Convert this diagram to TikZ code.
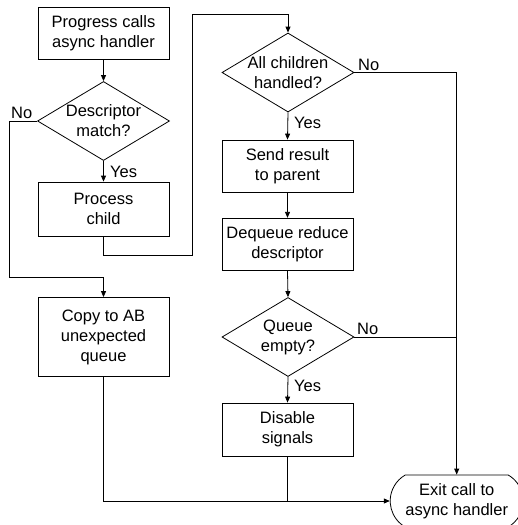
\documentclass[tikz,border=0pt]{standalone}
\usepackage{fontspec}
\setmainfont{Liberation Sans}
\usetikzlibrary{shapes.geometric,shapes.misc,arrows.meta}
\begin{document}
\begin{tikzpicture}[x=1pt,y=-1pt,
  every node/.style={font=\fontsize{16.5}{20}\selectfont},
  box/.style={draw,line width=0.8pt,rectangle,minimum width=131pt,align=center,inner sep=0pt},
  dia/.style={draw,line width=0.8pt,diamond,minimum width=132pt,minimum height=79pt,inner sep=0pt},
  txt/.style={align=center,inner sep=0pt},
  term/.style={draw,line width=0.8pt,rounded rectangle,rounded rectangle arc length=120,minimum width=133pt,minimum height=52pt,align=center,inner sep=0pt},
  lab/.style={anchor=base west,inner sep=0pt},
  conn/.style={line width=0.8pt},
  arr/.style={conn,-{Triangle[length=6pt,width=5pt]}}]
\useasboundingbox (0,0) rectangle (517,525);
% left column
\node[box,minimum height=52pt] (prog) at (103.5,33) {Progress calls\\async handler};
\node[dia] (d1) at (103.5,121) {};
\node[txt] (d1t) at (d1) {Descriptor\\match?};
\node[box,minimum height=54pt] (proc) at (103.5,209) {Process\\child};
\node[box,minimum height=79pt] (copy) at (103.5,337) {Copy to AB\\unexpected\\queue};
% right column
\node[dia] (d2) at (288,72.5) {};
\node[txt] (d2t) at (d2) {All children\\handled?};
\node[box,minimum height=52pt] (send) at (287.5,166) {Send result\\to parent};
\node[box,minimum height=52.5pt] (deq) at (287.5,244.5) {Dequeue reduce\\descriptor};
\node[dia] (d3) at (288,337) {};
\node[txt] (d3t) at (d3) {Queue\\empty?};
\node[box,minimum height=53pt] (dis) at (287.5,429.5) {Disable\\signals};
\node[term] (exit) at (456.7,501) {Exit call to\\async handler};
% labels
\node[lab] (n1) at (11,118) {No};
\node[lab] (y1) at (110,177) {Yes};
\node[lab] (n2) at (358,70) {No};
\node[lab] (y2) at (294,128) {Yes};
\node[lab] (n3) at (357,334) {No};
\node[lab] (y3) at (294,391) {Yes};
% connectors
\coordinate (c1) at (192,14);
\draw[arr] (prog.south) -- (d1.north);
\draw[arr] (d1.south) -- (proc.north);
\draw[arr] (d1.west) -- ++(-28,0) |- ([yshift=20pt]copy.north) -- (copy.north);
\draw[arr] (proc.south) -- ++(0,19) -| (c1) -| (d2.north);
\draw[arr] (d2.south) -- (send.north);
\draw[arr] (d2.east) -| (exit.north);
\draw[arr] (send.south) -- (deq.north);
\draw[arr] (deq.south) -- (d3.north);
\draw[conn] (d3.east) -- (d3.east -| exit.north);
\draw[arr] (d3.south) -- (dis.north);
\draw[arr] (copy.south) |- (exit.west);
\draw[conn] (dis.south) -- (dis.south |- exit.west);
\end{tikzpicture}
\end{document}
